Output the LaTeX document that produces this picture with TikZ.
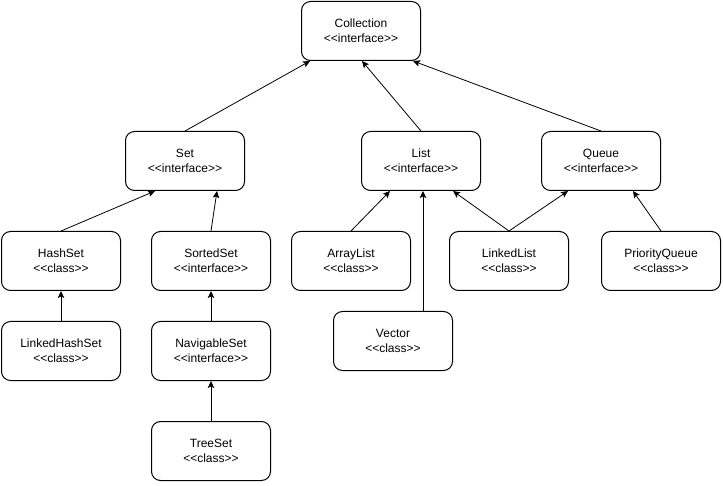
\documentclass[tikz,border=0pt]{standalone}
\usepackage{fontspec}
\setmainfont{Liberation Sans}[Ligatures=TeXOff]
\usetikzlibrary{arrows.meta, positioning}
\usepackage{xcolor}

\begin{document}
\begin{tikzpicture}[
  x=1pt, y=-1pt,
    box/.style={
        draw,
        rounded corners=9pt,
        line width=1pt,
        align=center,
        minimum width=119pt,
        minimum height=59pt,
        inner sep=0pt,
        font=\fontsize{12}{15}\selectfont
    },
    arrow/.style={
        -{Stealth[length=7pt,width=6.5pt,inset=1.5pt]},
        line width=0.8pt
    }
]
\useasboundingbox (0,0) rectangle (723,486);

\node[box] (collection) at (361,31)
{Collection\\
<<interface>>};

\node[box] (set) at (185,161)
{Set\\
<<interface>>};

\node[box] (list) at (421,161)
{List\\
<<interface>>};

\node[box] (queue) at (601,161)
{Queue\\
<<interface>>};

\node[box] (hashset) at (61,261)
{HashSet\\
<<class>>};

\node[box] (sortedset) at (211,261)
{SortedSet\\
<<interface>>};

\node[box] (arraylist) at (351,261)
{ArrayList\\
<<class>>};

\node[box] (linkedlist) at (509,261)
{LinkedList\\
<<class>>};

\node[box] (priorityqueue) at (661,261)
{PriorityQueue\\
<<class>>};

\node[box] (linkedhashset) at (61,351)
{LinkedHashSet\\
<<class>>};

\node[box] (navigableset) at (211,351)
{NavigableSet\\
<<interface>>};

\node[box] (vector) at (393,341)
{Vector\\
<<class>>};

\node[box] (treeset) at (211,451)
{TreeSet\\
<<class>>};

\draw[arrow] (set.north) -- ([xshift=-51pt]collection.south);
\draw[arrow] (list.north) -- ([xshift=1pt]collection.south);
\draw[arrow] (queue.north) -- ([xshift=52pt]collection.south);

\draw[arrow] (hashset.north) -- ([xshift=-30pt]set.south);
\draw[arrow] (sortedset.north) -- ([xshift=32pt]set.south);
\draw[arrow] (linkedhashset) -- (hashset);
\draw[arrow] (navigableset) -- (sortedset);
\draw[arrow] (treeset) -- (navigableset);

\draw[arrow] (arraylist.north) -- ([xshift=-31pt]list.south);
\draw[arrow] ([xshift=30pt]vector.north) -- ([xshift=2pt]list.south);
\draw[arrow] (linkedlist.north) -- ([xshift=32pt]list.south);
\draw[arrow] (linkedlist.north) -- ([xshift=-33pt]queue.south);
\draw[arrow] (priorityqueue.north) -- ([xshift=32pt]queue.south);

\end{tikzpicture}
\end{document}
